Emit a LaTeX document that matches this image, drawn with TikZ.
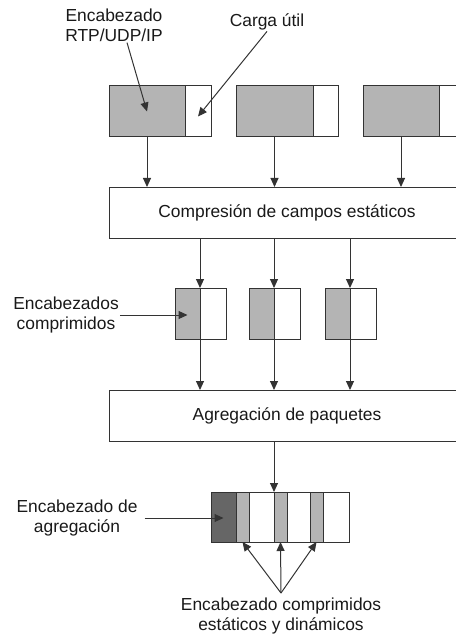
\documentclass[tikz,border=0pt]{standalone}
\usepackage{fontspec}
\setmainfont{Liberation Sans}
\usetikzlibrary{arrows.meta}
\definecolor{lnc}{HTML}{333333}
\definecolor{lgray}{HTML}{B4B4B4}
\definecolor{dgray}{HTML}{666666}
\begin{document}
\begin{tikzpicture}[x=1bp,y=-1bp,
  font=\fontsize{17.4bp}{20bp}\selectfont,
  box/.style={draw=lnc, line width=1bp, inner sep=0pt, outer sep=0pt, anchor=north west, minimum height=51bp},
  hdr/.style={box, fill=lgray},
  pay/.style={box, fill=white},
  dark/.style={box, fill=dgray},
  lbl/.style={align=center, inner sep=1bp, text=black!90},
  arr/.style={draw=lnc, line width=1bp, -{Triangle[length=9bp,width=8bp]}}]
\useasboundingbox (0,0) rectangle (456,638);
\clip (0,0) rectangle (456,638);
% top packets
\node[hdr, minimum width=76bp] (p1h) at (109,86) {};
\node[pay, minimum width=26bp] (p1p) at (185,86) {};
\node[hdr, minimum width=77bp] (p2h) at (236,86) {};
\node[pay, minimum width=25bp] (p2p) at (313,86) {};
\node[hdr, minimum width=76bp] (p3h) at (363,86) {};
\node[pay, minimum width=26bp] (p3p) at (439,86) {};
% compression box
\node[pay, minimum width=380bp] (comp) at (109,187) {};
\node[lbl] (comptxt) at (287,213) {Compresión de campos estáticos};
% small boxes
\node[hdr, minimum width=25bp] (s1h) at (175,288) {};
\node[pay, minimum width=26bp] (s1p) at (200,288) {};
\node[hdr, minimum width=25bp] (s2h) at (249,288) {};
\node[pay, minimum width=26bp] (s2p) at (274,288) {};
\node[hdr, minimum width=25bp] (s3h) at (325,288) {};
\node[pay, minimum width=26bp] (s3p) at (350,288) {};
% aggregation box
\node[pay, minimum width=380bp] (agg) at (109,390) {};
\node[lbl] (aggtxt) at (287,416) {Agregación de paquetes};
% aggregated packet
\node[dark, minimum width=25bp, minimum height=50bp] (a1) at (211,492) {};
\node[hdr, minimum width=13bp, minimum height=50bp] (a2) at (236,492) {};
\node[pay, minimum width=25bp, minimum height=50bp] (a3) at (249,492) {};
\node[hdr, minimum width=13bp, minimum height=50bp] (a4) at (274,492) {};
\node[pay, minimum width=23bp, minimum height=50bp] (a5) at (287,492) {};
\node[hdr, minimum width=13bp, minimum height=50bp] (a6) at (310,492) {};
\node[pay, minimum width=26bp, minimum height=50bp] (a7) at (323,492) {};
% labels
\node[lbl] (lblhdr) at (114,25) {Encabezado\\RTP/UDP/IP};
\node[lbl] (lblpay) at (267,22) {Carga útil};
\node[lbl] (lblcomp) at (66,315) {Encabezados\\comprimidos};
\node[lbl] (lblagg) at (77,518) {Encabezado de\\agregación};
\node[lbl, anchor=north] (lblbot) at (281,597) {Encabezado comprimidos\\estáticos y dinámicos};
\coordinate (apex) at (281,593);
% connectors top
\draw[arr] (p1h.south) -- (p1h.south |- comp.north);
\draw[arr] (p2h.south) -- (p2h.south |- comp.north);
\draw[arr] (p3h.south) -- (p3h.south |- comp.north);
\draw[arr] (s1h.north east |- comp.south) -- (s1h.north east);
\draw[arr] (s2h.north east |- comp.south) -- (s2h.north east);
\draw[arr] (s3h.north east |- comp.south) -- (s3h.north east);
\draw[arr] (s1h.south east) -- (s1h.south east |- agg.north);
\draw[arr] (s2h.south east) -- (s2h.south east |- agg.north);
\draw[arr] (s3h.south east) -- (s3h.south east |- agg.north);
\draw[arr] (a4.north west |- agg.south) -- (a4.north west);
% label arrows
\draw[arr] ([xshift=13bp]lblhdr.south) -- (p1h.center);
\draw[arr] (lblpay.south) -- ([yshift=-5bp]p1p.center);
\draw[arr] (lblcomp.east) -- (lblcomp.east -| s1h.center);
\draw[arr] ([xshift=6bp]lblagg.east) -- (lblagg.east -| a1.center);
\draw[arr] (apex) -- (a2.south);
\draw[arr] (apex) -- (a4.south);
\draw[arr] (apex) -- (a6.south);
\end{tikzpicture}
\end{document}
